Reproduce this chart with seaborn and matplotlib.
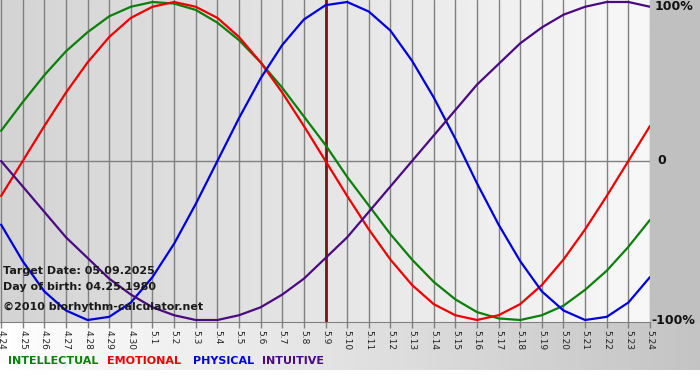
import numpy as np
import pandas as pd
import seaborn as sns
import matplotlib.pyplot as plt
from matplotlib.colors import LinearSegmentedColormap
from matplotlib.patches import Rectangle

# Day labels on the x axis (4.24 .. 5.24)
days = ['4.24', '4.25', '4.26', '4.27', '4.28', '4.29', '4.30',
        '5.1', '5.2', '5.3', '5.4', '5.5', '5.6', '5.7', '5.8', '5.9',
        '5.10', '5.11', '5.12', '5.13', '5.14', '5.15', '5.16', '5.17',
        '5.18', '5.19', '5.20', '5.21', '5.22', '5.23', '5.24']

# Cycle values, -1 .. 1 (one per day)
intellectual = [0.19, 0.37, 0.54, 0.69, 0.81, 0.91, 0.97, 1.00, 0.99, 0.95,
                0.87, 0.76, 0.62, 0.46, 0.28, 0.10, -0.10, -0.28, -0.46, -0.62,
                -0.76, -0.87, -0.95, -0.99, -1.00, -0.97, -0.91, -0.81, -0.69, -0.54,
                -0.37]
emotional = [-0.22, 0.00, 0.22, 0.43, 0.62, 0.78, 0.90, 0.97, 1.00, 0.97,
             0.90, 0.78, 0.62, 0.43, 0.22, 0.00, -0.22, -0.43, -0.62, -0.78,
             -0.90, -0.97, -1.00, -0.97, -0.90, -0.78, -0.62, -0.43, -0.22, 0.00,
             0.22]
physical = [-0.40, -0.63, -0.82, -0.94, -1.00, -0.98, -0.89, -0.73, -0.52, -0.27,
            0.00, 0.27, 0.52, 0.73, 0.89, 0.98, 1.00, 0.94, 0.82, 0.63,
            0.40, 0.14, -0.14, -0.40, -0.63, -0.82, -0.94, -1.00, -0.98, -0.89,
            -0.73]
intuitive = [0.00, -0.16, -0.32, -0.48, -0.61, -0.74, -0.84, -0.92, -0.97, -1.00,
             -1.00, -0.97, -0.92, -0.84, -0.74, -0.61, -0.48, -0.32, -0.16, 0.00,
             0.16, 0.32, 0.48, 0.61, 0.74, 0.84, 0.92, 0.97, 1.00, 1.00,
             0.97]

target_day = '5.9'
cycles = ['INTELLECTUAL', 'EMOTIONAL', 'PHYSICAL', 'INTUITIVE']
colors = {'INTELLECTUAL': '#0a800a', 'EMOTIONAL': '#ee0000',
          'PHYSICAL': '#0000dd', 'INTUITIVE': '#4b0a82'}

# long-form table for seaborn
x = np.arange(len(days))
df = pd.concat([
    pd.DataFrame({'day': x, 'value': intellectual, 'cycle': 'INTELLECTUAL'}),
    pd.DataFrame({'day': x, 'value': emotional, 'cycle': 'EMOTIONAL'}),
    pd.DataFrame({'day': x, 'value': physical, 'cycle': 'PHYSICAL'}),
    pd.DataFrame({'day': x, 'value': intuitive, 'cycle': 'INTUITIVE'}),
])

sns.set_style('white')
plt.rcParams['font.family'] = ['DejaVu Sans']

W, H = 700, 380
fig = plt.figure(figsize=(7, 3.8), dpi=100, facecolor='white')

# grey column at the right, gradient strip at the bottom
fig.patches.append(Rectangle((650 / W, 58 / H), 1 - 650 / W, 1 - 58 / H,
                             transform=fig.transFigure, color='#c0c0c0', zorder=0))
strip = fig.add_axes([0, 10 / H, 1, 48 / H], zorder=0)
strip.imshow(np.linspace(0, 1, 256).reshape(1, -1), aspect='auto',
             cmap=LinearSegmentedColormap.from_list('s', ['#ffffff', '#c4c4c4']))
strip.axis('off')

ax = fig.add_axes([0, 58 / H, 650 / W, 322 / H], zorder=1)
xmin, xmax = -0.05, 30
ymin, ymax = -1.0125, 1.0125
ax.imshow(np.linspace(0, 1, 256).reshape(1, -1), aspect='auto', zorder=0,
          extent=[xmin, xmax, ymin, ymax],
          cmap=LinearSegmentedColormap.from_list('bg', ['#d4d4d4', '#f8f8f8']))

for d in x:
    ax.axvline(d, color='#808080', lw=1, zorder=1)
ax.axhline(0, color='#808080', lw=1, zorder=1)

sns.lineplot(data=df, x='day', y='value', hue='cycle', hue_order=cycles,
             palette=colors, legend=False, linewidth=1.6, ax=ax, zorder=3)

ax.axvline(days.index(target_day), color='#7a1414', lw=2, zorder=2)

ax.set_xlim(xmin, xmax)
ax.set_ylim(ymin, ymax)
ax.set_xticks(x)
ax.set_xticklabels(days, rotation=270, fontsize=6.5, color='#222222')
ax.set_yticks([])
ax.set_xlabel('')
ax.set_ylabel('')
ax.tick_params(axis='x', length=4, width=1, color='#808080', pad=2, bottom=True)
for side in ['top', 'right', 'left']:
    ax.spines[side].set_visible(False)
ax.spines['bottom'].set_color('#808080')

# value labels at the right
def fy(py):
    return 1 - py / H

fig.text(655 / W, fy(7), '100%', fontsize=9, fontweight='bold', va='center', color='#111111')
fig.text(657 / W, fy(161), '0', fontsize=9, fontweight='bold', va='center', color='#111111')
fig.text(651 / W, fy(321), '-100%', fontsize=9, fontweight='bold', va='center', color='#111111')

# info text
fig.text(3 / W, fy(271), 'Target Date: 05.09.2025', fontsize=8, fontweight='bold',
         va='center', color='#1a1a1a', zorder=5)
fig.text(3 / W, fy(287), 'Day of birth: 04.25.1980', fontsize=8, fontweight='bold',
         va='center', color='#1a1a1a', zorder=5)
fig.text(3 / W, fy(307), '\u00a92010 biorhythm-calculator.net', fontsize=8, fontweight='bold',
         va='center', color='#1a1a1a', zorder=5)

# legend row
for name, px in zip(cycles, [8, 107, 193, 262]):
    fig.text(px / W, fy(361), name, fontsize=8, fontweight='bold',
             va='center', color=colors[name], zorder=5)

fig.savefig('out.png', dpi=100, facecolor=fig.get_facecolor())
